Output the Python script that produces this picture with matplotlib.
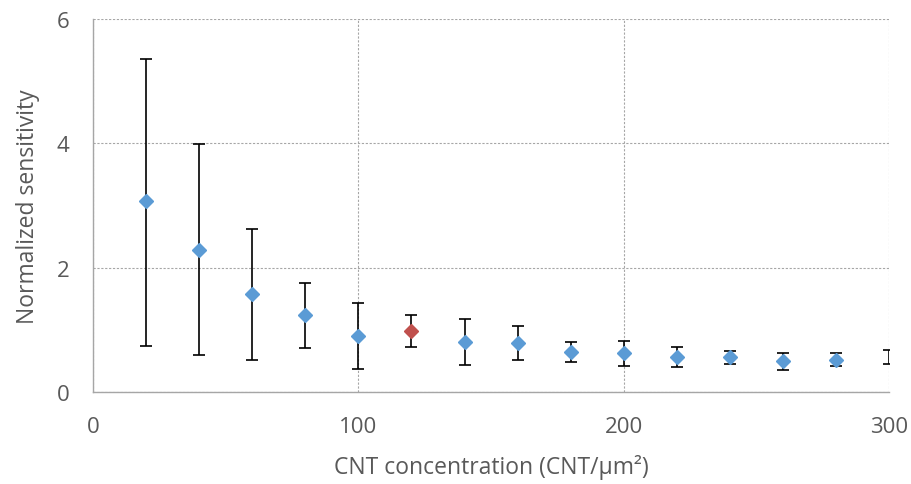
import numpy as np
import matplotlib.pyplot as plt

conc = [20, 40, 60, 80, 100, 120, 140, 160, 180, 200, 220, 240, 260, 280, 300]
sens = [3.07, 2.29, 1.58, 1.24, 0.91, 0.98, 0.81, 0.79, 0.65, 0.63, 0.56, 0.56, 0.50, 0.525, 0.57]
err_hi = [5.36, 3.99, 2.63, 1.76, 1.44, 1.25, 1.18, 1.06, 0.81, 0.83, 0.73, 0.67, 0.63, 0.63, 0.68]
err_lo = [0.75, 0.605, 0.525, 0.71, 0.38, 0.73, 0.44, 0.525, 0.48, 0.42, 0.40, 0.46, 0.36, 0.42, 0.46]
highlight = 120

x = np.array(conc)
y = np.array(sens)
yerr = [y - np.array(err_lo), np.array(err_hi) - y]

plt.rcParams['font.family'] = ['Open Sans', 'DejaVu Sans']
grey = '#595959'

fig = plt.figure(figsize=(9.12, 4.85), dpi=100)
ax = fig.add_axes([0.102, 0.189, 0.873, 0.770])

ax.errorbar(x, y, yerr=yerr, fmt='none', ecolor='black', elinewidth=1.2,
            capsize=4.5, capthick=1.2, zorder=2)

# the point at 300 sits on the plot edge; only its error bar shows
shown = x < 300
blue = shown & (x != highlight)
red = x == highlight
ax.plot(x[blue], y[blue], 'D', color='#5B9BD5', markersize=7, zorder=3)
ax.plot(x[red], y[red], 'D', color='#C0504D', markersize=7, zorder=3)

ax.set_xlim(0, 300)
ax.set_ylim(0, 6)
ax.set_xticks([0, 100, 200, 300])
ax.set_yticks([0, 2, 4, 6])
ax.grid(True, color='#a6a6a6', linestyle=(0, (2, 1.5)), linewidth=0.8)
ax.set_axisbelow(True)
for s in ['top', 'right']:
    ax.spines[s].set_visible(False)
for s in ['left', 'bottom']:
    ax.spines[s].set_color('#a6a6a6')
    ax.spines[s].set_linewidth(1.0)
ax.tick_params(length=0, labelsize=16, labelcolor=grey)
ax.tick_params(axis='x', pad=17)
ax.tick_params(axis='y', pad=17)

ax.set_xlabel('CNT concentration (CNT/µm²)', fontsize=16.5, color=grey, labelpad=12)
ax.set_ylabel('Normalized sensitivity', fontsize=16.5, color=grey, labelpad=12)

fig.savefig('out.png', dpi=100)
